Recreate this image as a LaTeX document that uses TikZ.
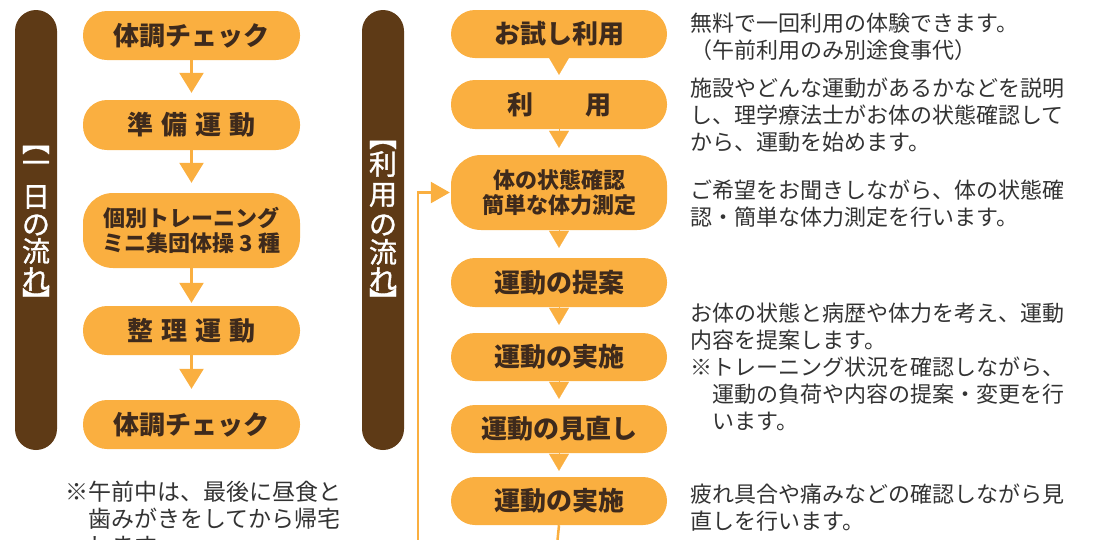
\documentclass[tikz,border=0pt]{standalone}
\usepackage{fontspec}
\setmainfont{Noto Sans CJK JP}
\newfontfamily\jp{Noto Sans CJK JP}
\newfontfamily\jpm{Noto Sans CJK JP}[FakeBold=1.2]
\usetikzlibrary{arrows.meta}
\definecolor{org}{HTML}{FAAF40}
\definecolor{brn}{HTML}{5E3A16}
\definecolor{ink}{HTML}{3E2A1C}
\definecolor{txt}{HTML}{333333}
\tikzset{
  pill/.style={fill=org, draw=none, rounded corners=24pt, inner sep=0pt,
    text=ink, font=\jp\bfseries\fontsize{26}{26}\selectfont, align=center},
  lpill/.style={pill, minimum width=217pt},
  rpill/.style={pill, minimum width=216pt},
  tallpill/.style={rounded corners=30pt, font=\jp\bfseries\fontsize{22}{25}\selectfont},
  larr/.style={draw=org, line width=2.5pt, -{Triangle[width=24pt,length=20pt]}},
  ptr/.style={draw=org, line width=0.1pt, -{Triangle[width=20pt,length=17pt]}},
  fbline/.style={draw=org, line width=2.5pt},
  fbarr/.style={fbline, -{Triangle[width=21pt,length=19pt]}},
  barchar/.style={text=white, inner sep=0pt, font=\jpm\fontsize{28}{28}\selectfont},
  desc/.style={anchor=base west, inner sep=0pt, text=txt, align=left,
    font=\jp\fontsize{22}{27}\selectfont},
  note/.style={anchor=base west, inner sep=0pt, text=txt, align=left,
    font=\jp\fontsize{23}{27}\selectfont},
}
\begin{document}
\begin{tikzpicture}[x=1pt,y=-1pt]
\useasboundingbox (0,0) rectangle (1098,539);
\clip (0,0) rectangle (1098,539);

% brown bars
\fill[brn, rounded corners=21pt] (15,10) rectangle (57,450);
\fill[brn, rounded corners=21pt] (362,10) rectangle (404,450);

% left bar text
\node[barchar] (lb1) at (36,150) {︻};
\node[barchar] (lb2) at (36,167) {一};
\node[barchar] (lb3) at (36,197) {日};
\node[barchar] (lb4) at (36,225) {の};
\node[barchar] (lb5) at (36,251) {流};
\node[barchar] (lb6) at (36,279) {れ};
\node[barchar] (lb7) at (36,300) {︼};

% right bar text
\node[barchar] (rb1) at (383,145) {︻};
\node[barchar] (rb2) at (383,164) {利};
\node[barchar] (rb3) at (383,195) {用};
\node[barchar] (rb4) at (383,225) {の};
\node[barchar] (rb5) at (383,252) {流};
\node[barchar] (rb6) at (383,279) {れ};
\node[barchar] (rb7) at (383,300) {︼};

% left flow
\node[lpill, minimum height=49pt] (l1) at (191.5,35.5) {体調チェック};
\node[lpill, minimum height=50pt] (l2) at (191.5,125) {準\hspace{8pt}備\hspace{8pt}運\hspace{8pt}動};
\node[lpill, tallpill, minimum height=75pt] (l3) at (191.5,230.5) {個別トレーニング\\ミニ集団体操 3 種};
\node[lpill, minimum height=49pt] (l4) at (191.5,330.5) {整\hspace{8pt}理\hspace{8pt}運\hspace{8pt}動};
\node[lpill, minimum height=49pt] (l5) at (191.5,424.5) {体調チェック};

\draw[larr, shorten >=7pt] (l1.south) -- (l2.north);
\draw[larr, shorten >=10pt] (l2.south) -- (l3.north);
\draw[larr, shorten >=3pt] (l3.south) -- (l4.north);
\draw[larr, shorten >=11pt] (l4.south) -- (l5.north);

% right flow
\node[rpill, minimum height=48pt] (rA) at (559,34) {お試し利用};
\node[rpill, minimum height=49pt] (rB) at (559,104.5) {利　　用};
\node[rpill, tallpill, minimum height=75pt] (rC) at (559,192.5) {体の状態確認\\簡単な体力測定};
\node[rpill, minimum height=49pt] (rD) at (559,282.5) {運動の提案};
\node[rpill, minimum height=48pt] (rE) at (559,357) {運動の実施};
\node[rpill, minimum height=48pt] (rF) at (559,429) {運動の見直し};
\node[rpill, minimum height=48pt] (rG) at (559,501) {運動の実施};

\draw[ptr, shorten >=5pt] (rA.south) -- (rB.north);
\draw[ptr, shorten >=7pt] (rB.south) -- (rC.north);
\draw[ptr, shorten >=10pt] (rC.south) -- (rD.north);
\draw[ptr, shorten >=8pt] (rD.south) -- (rE.north);
\draw[ptr, shorten >=6pt] (rE.south) -- (rF.north);
\draw[ptr, shorten >=6pt] (rF.south) -- (rG.north);

\coordinate (gtail) at (557,545);
\draw[fbline] (rG.south) -- (gtail);
\coordinate (fb0) at (418,545);
\draw[fbarr, shorten >=1pt] (fb0) |- (rC.west);

% descriptions (anchor = baseline of last line)
\node[desc] (d1) at (690,58.4) {無料で一回利用の体験できます。\\（午前利用のみ別途食事代）};
\node[desc] (d2) at (690,150.4) {施設やどんな運動があるかなどを説明\\し、理学療法士がお体の状態確認して\\から、運動を始めます。};
\node[desc] (d3) at (690,225.4) {ご希望をお聞きしながら、体の状態確\\認・簡単な体力測定を行います。};
\node[desc] (d4) at (690,429.4) {お体の状態と病歴や体力を考え、運動\\内容を提案します。\\※トレーニング状況を確認しながら、\\\hspace*{22pt}運動の負荷や内容の提案・変更を行\\\hspace*{22pt}います。};
\node[desc] (d5) at (690,529.4) {疲れ具合や痛みなどの確認しながら見\\直しを行います。};

% note
\node[note] (n1) at (65,554.7) {※午前中は、最後に昼食と\\\hspace*{23pt}歯みがきをしてから帰宅\\\hspace*{23pt}します。};
\end{tikzpicture}
\end{document}
